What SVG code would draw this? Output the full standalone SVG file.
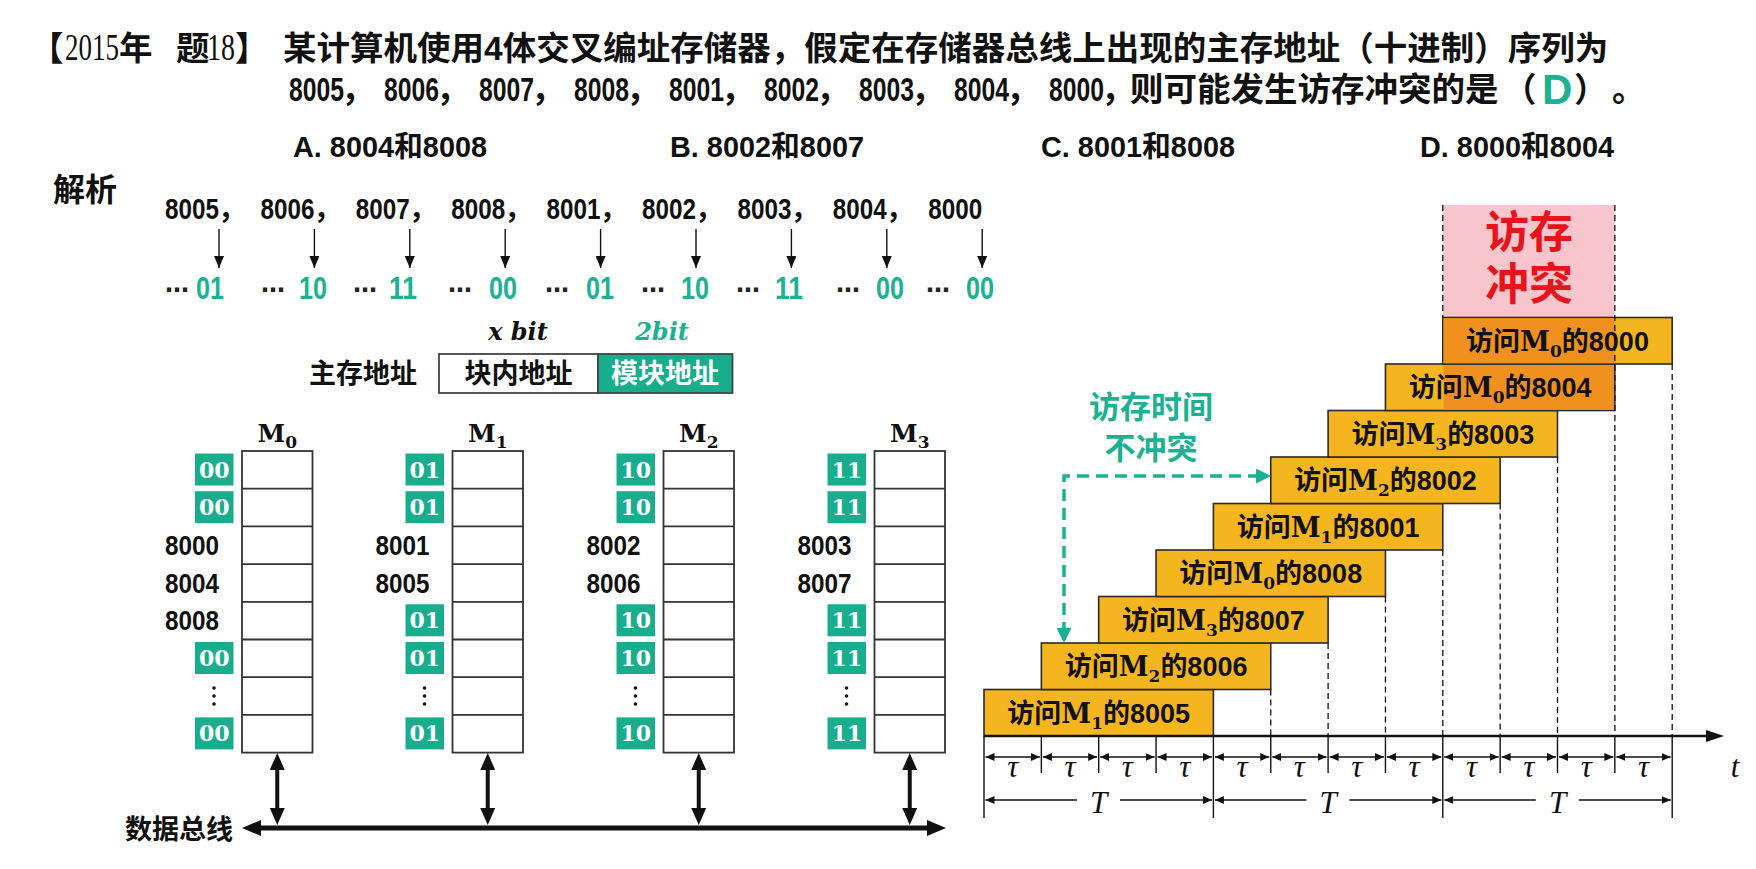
<svg xmlns="http://www.w3.org/2000/svg" width="1756" height="869" viewBox="0 0 1756 869">
<style>
.cjk{font-family:"Noto Sans CJK SC",sans-serif;font-weight:700}
.mix{font-family:"Liberation Sans","Noto Sans CJK SC",sans-serif;font-weight:700}
.ser{font-family:"Liberation Serif","Noto Sans CJK SC",serif}
.dser{font-family:"DejaVu Serif",serif}
.teal{fill:#1bb192}
.cell{fill:#fff;stroke:#333;stroke-width:1.8}
.rowl{stroke:#333;stroke-width:1.8}
.gbox{fill:#18ad8d}
.gtxt{font-family:"DejaVu Serif",serif;font-weight:700;font-size:22px;fill:#fff;text-anchor:middle}
.addr{font-family:"Liberation Sans",sans-serif;font-weight:700;font-size:28px;fill:#111}
.mlab{font-family:"DejaVu Serif",serif;font-weight:700;font-size:25px;text-anchor:middle;fill:#111}
.msub{font-size:17px}
.bar{fill:#f5b51e;stroke:#2a2a2a;stroke-width:1.6}
.dark{fill:#ef901f}
.bt{font-family:"Liberation Sans","Noto Sans CJK SC",sans-serif;font-weight:700;font-size:27px;text-anchor:middle;fill:#111}
.bm{font-family:"DejaVu Serif",serif;font-weight:700}
.bs{font-family:"DejaVu Serif",serif;font-weight:700;font-size:17px}
.dash{stroke:#111;stroke-width:1.3;stroke-dasharray:6 4;fill:none}
.tick{stroke:#111;stroke-width:1.4}
.tau{font-family:"Liberation Serif",serif;font-style:italic;font-size:31px;text-anchor:middle;fill:#111}
.thin{stroke:#111;stroke-width:1.4;fill:none}
.dotc{fill:#111}
.seqn{font-family:"Liberation Sans",sans-serif;font-weight:700;font-size:30px;fill:#111}
.code{font-family:"Liberation Sans",sans-serif;font-weight:700;font-size:31px;fill:#1bb192;text-anchor:end}
.ell{font-family:"DejaVu Sans",sans-serif;font-weight:700;font-size:24px;fill:#222;text-anchor:end}
</style>
<defs>
<marker id="aSm" markerUnits="userSpaceOnUse" markerWidth="12" markerHeight="10" refX="12" refY="5" orient="auto-start-reverse"><path d="M0,0 L12,5 L0,10 z" fill="#111"/></marker>
<marker id="aBig" markerUnits="userSpaceOnUse" markerWidth="17" markerHeight="15" refX="4" refY="7.5" orient="auto-start-reverse"><path d="M0,0 L17,7.5 L0,15 z" fill="#111"/></marker>
<marker id="aBus" markerUnits="userSpaceOnUse" markerWidth="19" markerHeight="16" refX="4" refY="8" orient="auto-start-reverse"><path d="M0,0 L19,8 L0,16 z" fill="#111"/></marker>
<marker id="aAx" markerUnits="userSpaceOnUse" markerWidth="18" markerHeight="12" refX="4" refY="6" orient="auto-start-reverse"><path d="M0,0 L18,6 L0,12 z" fill="#111"/></marker>
<marker id="aTau" markerUnits="userSpaceOnUse" markerWidth="9" markerHeight="8" refX="9" refY="4" orient="auto-start-reverse"><path d="M0,0 L9,4 L0,8 z" fill="#111"/></marker>
<marker id="aTeal" markerUnits="userSpaceOnUse" markerWidth="15" markerHeight="15" refX="4" refY="7.5" orient="auto-start-reverse"><path d="M0,0 L15,7.5 L0,15 z" fill="#1bb192"/></marker>
</defs>
<rect x="0" y="0" width="1756" height="869" fill="#fff"/>

<g id="title">
<text class="cjk" x="30" y="60" font-size="33.5" fill="#111">【</text>
<text class="ser" x="65" y="60" font-size="37" textLength="54" lengthAdjust="spacingAndGlyphs" fill="#111">2015</text>
<text class="cjk" x="119" y="60" font-size="33.5" fill="#111">年</text>
<text class="cjk" x="176" y="60" font-size="33.5" fill="#111">题</text>
<text class="ser" x="207" y="60" font-size="37" textLength="28" lengthAdjust="spacingAndGlyphs" fill="#111">18</text>
<text class="cjk" x="235" y="60" font-size="33.5" fill="#111">】</text>
<text class="mix" x="283" y="60" font-size="33.5" fill="#111">某计算机使用4体交叉编址存储器，假定在存储器总线上出现的主存地址（十进制）序列为</text>
<g class="mix" font-size="34" fill="#111">
<text x="289" y="101" textLength="55" lengthAdjust="spacingAndGlyphs">8005</text>
<text x="384" y="101" textLength="55" lengthAdjust="spacingAndGlyphs">8006</text>
<text x="479" y="101" textLength="55" lengthAdjust="spacingAndGlyphs">8007</text>
<text x="574" y="101" textLength="55" lengthAdjust="spacingAndGlyphs">8008</text>
<text x="669" y="101" textLength="55" lengthAdjust="spacingAndGlyphs">8001</text>
<text x="764" y="101" textLength="55" lengthAdjust="spacingAndGlyphs">8002</text>
<text x="859" y="101" textLength="55" lengthAdjust="spacingAndGlyphs">8003</text>
<text x="954" y="101" textLength="55" lengthAdjust="spacingAndGlyphs">8004</text>
<text x="1049" y="101" textLength="55" lengthAdjust="spacingAndGlyphs">8000</text>
</g>
<g class="cjk" font-size="33.5" fill="#111">
<text x="341" y="101">，</text><text x="436" y="101">，</text><text x="531" y="101">，</text><text x="626" y="101">，</text><text x="721" y="101">，</text><text x="816" y="101">，</text><text x="911" y="101">，</text><text x="1006" y="101">，</text><text x="1101" y="101">，</text>
<text x="1130" y="101">则可能发生访存冲突的是</text>
<text x="1503" y="101">（</text>
<text x="1574" y="101">）</text>
<text x="1612" y="101">。</text>
</g>
<text class="mix teal" x="1542" y="104" font-size="42">D</text>
</g>

<g id="options" class="mix" font-size="29" fill="#111">
<text x="293" y="157" textLength="194" lengthAdjust="spacingAndGlyphs">A. 8004和8008</text>
<text x="670" y="157" textLength="194" lengthAdjust="spacingAndGlyphs">B. 8002和8007</text>
<text x="1041" y="157" textLength="194" lengthAdjust="spacingAndGlyphs">C. 8001和8008</text>
<text x="1420" y="157" textLength="194" lengthAdjust="spacingAndGlyphs">D. 8000和8004</text>
</g>

<text class="cjk" x="53" y="201" font-size="32" fill="#111">解析</text>

<g id="sequence">
<text class="seqn" x="165" y="219" textLength="54" lengthAdjust="spacingAndGlyphs">8005</text>
<text class="seqn" x="260.4" y="219" textLength="54" lengthAdjust="spacingAndGlyphs">8006</text>
<text class="seqn" x="355.8" y="219" textLength="54" lengthAdjust="spacingAndGlyphs">8007</text>
<text class="seqn" x="451.2" y="219" textLength="54" lengthAdjust="spacingAndGlyphs">8008</text>
<text class="seqn" x="546.6" y="219" textLength="54" lengthAdjust="spacingAndGlyphs">8001</text>
<text class="seqn" x="642" y="219" textLength="54" lengthAdjust="spacingAndGlyphs">8002</text>
<text class="seqn" x="737.4" y="219" textLength="54" lengthAdjust="spacingAndGlyphs">8003</text>
<text class="seqn" x="832.8" y="219" textLength="54" lengthAdjust="spacingAndGlyphs">8004</text>
<text class="seqn" x="928.2" y="219" textLength="54" lengthAdjust="spacingAndGlyphs">8000</text>
<g class="cjk" font-size="28" fill="#111">
<text x="218" y="219">，</text><text x="313.4" y="219">，</text><text x="408.8" y="219">，</text><text x="504.2" y="219">，</text><text x="599.6" y="219">，</text><text x="695" y="219">，</text><text x="790.4" y="219">，</text><text x="885.8" y="219">，</text>
</g>
<g class="thin" stroke-width="1.6" marker-end="url(#aSm)">
<line x1="219" y1="229" x2="219" y2="268"/>
<line x1="314.4" y1="229" x2="314.4" y2="268"/>
<line x1="409.8" y1="229" x2="409.8" y2="268"/>
<line x1="505.2" y1="229" x2="505.2" y2="268"/>
<line x1="600.6" y1="229" x2="600.6" y2="268"/>
<line x1="696" y1="229" x2="696" y2="268"/>
<line x1="791.4" y1="229" x2="791.4" y2="268"/>
<line x1="886.8" y1="229" x2="886.8" y2="268"/>
<line x1="982.2" y1="229" x2="982.2" y2="268"/>
</g>
<text class="ell" x="189" y="298">⋯</text><text class="code" x="224" y="299" textLength="28" lengthAdjust="spacingAndGlyphs">01</text>
<text class="ell" x="285" y="298">⋯</text><text class="code" x="327" y="299" textLength="28" lengthAdjust="spacingAndGlyphs">10</text>
<text class="ell" x="377" y="298">⋯</text><text class="code" x="417" y="299" textLength="28" lengthAdjust="spacingAndGlyphs">11</text>
<text class="ell" x="472" y="298">⋯</text><text class="code" x="517" y="299" textLength="28" lengthAdjust="spacingAndGlyphs">00</text>
<text class="ell" x="569" y="298">⋯</text><text class="code" x="614" y="299" textLength="28" lengthAdjust="spacingAndGlyphs">01</text>
<text class="ell" x="665" y="298">⋯</text><text class="code" x="709" y="299" textLength="28" lengthAdjust="spacingAndGlyphs">10</text>
<text class="ell" x="760" y="298">⋯</text><text class="code" x="803" y="299" textLength="28" lengthAdjust="spacingAndGlyphs">11</text>
<text class="ell" x="860" y="298">⋯</text><text class="code" x="904" y="299" textLength="28" lengthAdjust="spacingAndGlyphs">00</text>
<text class="ell" x="950" y="298">⋯</text><text class="code" x="994" y="299" textLength="28" lengthAdjust="spacingAndGlyphs">00</text>
</g>

<g id="address-format">
<text class="dser" x="518" y="340" font-size="24" font-weight="700" font-style="italic" text-anchor="middle" fill="#111">x bit</text>
<text class="dser teal" x="662" y="340" font-size="24" font-weight="700" font-style="italic" text-anchor="middle">2bit</text>
<text class="cjk" x="417" y="383" font-size="27" text-anchor="end" fill="#111">主存地址</text>
<rect x="439" y="354" width="159" height="39" fill="#fff" stroke="#444" stroke-width="1.8"/>
<rect x="598" y="354" width="134.5" height="39" fill="#18ad8d" stroke="#444" stroke-width="1.8"/>
<text class="cjk" x="518.5" y="383" font-size="27" text-anchor="middle" fill="#111">块内地址</text>
<text class="cjk" x="665" y="383" font-size="27" text-anchor="middle" fill="#fff">模块地址</text>
</g>

<g id="M0">
<text class="mlab" x="277.25" y="442">M<tspan class="msub" dy="6">0</tspan></text>
<rect class="cell" x="242" y="451" width="70.5" height="301.6"/>
<path class="rowl" d="M242,488.7H312.5M242,526.4H312.5M242,564.1H312.5M242,601.8H312.5M242,639.5H312.5M242,677.2H312.5M242,714.9H312.5"/>
<rect class="gbox" x="195" y="453.5" width="38.5" height="32"/><text class="gtxt" x="214.25" y="477.5">00</text>
<rect class="gbox" x="195" y="491.2" width="38.5" height="32"/><text class="gtxt" x="214.25" y="515.2">00</text>
<text class="addr" x="165" y="555" textLength="54" lengthAdjust="spacingAndGlyphs">8000</text>
<text class="addr" x="165" y="592.7" textLength="54" lengthAdjust="spacingAndGlyphs">8004</text>
<text class="addr" x="165" y="630.4" textLength="54" lengthAdjust="spacingAndGlyphs">8008</text>
<rect class="gbox" x="195" y="642" width="38.5" height="32"/><text class="gtxt" x="214.25" y="666">00</text>
<circle class="dotc" cx="214" cy="688" r="1.8"/><circle class="dotc" cx="214" cy="696" r="1.8"/><circle class="dotc" cx="214" cy="704" r="1.8"/>
<rect class="gbox" x="195" y="717.4" width="38.5" height="32"/><text class="gtxt" x="214.25" y="741.4">00</text>
</g>

<g id="M1">
<text class="mlab" x="487.75" y="442">M<tspan class="msub" dy="6">1</tspan></text>
<rect class="cell" x="452.5" y="451" width="70.5" height="301.6"/>
<path class="rowl" d="M452.5,488.7H523M452.5,526.4H523M452.5,564.1H523M452.5,601.8H523M452.5,639.5H523M452.5,677.2H523M452.5,714.9H523"/>
<rect class="gbox" x="405.5" y="453.5" width="38.5" height="32"/><text class="gtxt" x="424.75" y="477.5">01</text>
<rect class="gbox" x="405.5" y="491.2" width="38.5" height="32"/><text class="gtxt" x="424.75" y="515.2">01</text>
<text class="addr" x="375.5" y="555" textLength="54" lengthAdjust="spacingAndGlyphs">8001</text>
<text class="addr" x="375.5" y="592.7" textLength="54" lengthAdjust="spacingAndGlyphs">8005</text>
<rect class="gbox" x="405.5" y="604.3" width="38.5" height="32"/><text class="gtxt" x="424.75" y="628.3">01</text>
<rect class="gbox" x="405.5" y="642" width="38.5" height="32"/><text class="gtxt" x="424.75" y="666">01</text>
<circle class="dotc" cx="424.5" cy="688" r="1.8"/><circle class="dotc" cx="424.5" cy="696" r="1.8"/><circle class="dotc" cx="424.5" cy="704" r="1.8"/>
<rect class="gbox" x="405.5" y="717.4" width="38.5" height="32"/><text class="gtxt" x="424.75" y="741.4">01</text>
</g>

<g id="M2">
<text class="mlab" x="698.75" y="442">M<tspan class="msub" dy="6">2</tspan></text>
<rect class="cell" x="663.5" y="451" width="70.5" height="301.6"/>
<path class="rowl" d="M663.5,488.7H734M663.5,526.4H734M663.5,564.1H734M663.5,601.8H734M663.5,639.5H734M663.5,677.2H734M663.5,714.9H734"/>
<rect class="gbox" x="616.5" y="453.5" width="38.5" height="32"/><text class="gtxt" x="635.75" y="477.5">10</text>
<rect class="gbox" x="616.5" y="491.2" width="38.5" height="32"/><text class="gtxt" x="635.75" y="515.2">10</text>
<text class="addr" x="586.5" y="555" textLength="54" lengthAdjust="spacingAndGlyphs">8002</text>
<text class="addr" x="586.5" y="592.7" textLength="54" lengthAdjust="spacingAndGlyphs">8006</text>
<rect class="gbox" x="616.5" y="604.3" width="38.5" height="32"/><text class="gtxt" x="635.75" y="628.3">10</text>
<rect class="gbox" x="616.5" y="642" width="38.5" height="32"/><text class="gtxt" x="635.75" y="666">10</text>
<circle class="dotc" cx="635.5" cy="688" r="1.8"/><circle class="dotc" cx="635.5" cy="696" r="1.8"/><circle class="dotc" cx="635.5" cy="704" r="1.8"/>
<rect class="gbox" x="616.5" y="717.4" width="38.5" height="32"/><text class="gtxt" x="635.75" y="741.4">10</text>
</g>

<g id="M3">
<text class="mlab" x="909.75" y="442">M<tspan class="msub" dy="6">3</tspan></text>
<rect class="cell" x="874.5" y="451" width="70.5" height="301.6"/>
<path class="rowl" d="M874.5,488.7H945M874.5,526.4H945M874.5,564.1H945M874.5,601.8H945M874.5,639.5H945M874.5,677.2H945M874.5,714.9H945"/>
<rect class="gbox" x="827.5" y="453.5" width="38.5" height="32"/><text class="gtxt" x="846.75" y="477.5">11</text>
<rect class="gbox" x="827.5" y="491.2" width="38.5" height="32"/><text class="gtxt" x="846.75" y="515.2">11</text>
<text class="addr" x="797.5" y="555" textLength="54" lengthAdjust="spacingAndGlyphs">8003</text>
<text class="addr" x="797.5" y="592.7" textLength="54" lengthAdjust="spacingAndGlyphs">8007</text>
<rect class="gbox" x="827.5" y="604.3" width="38.5" height="32"/><text class="gtxt" x="846.75" y="628.3">11</text>
<rect class="gbox" x="827.5" y="642" width="38.5" height="32"/><text class="gtxt" x="846.75" y="666">11</text>
<circle class="dotc" cx="846.5" cy="688" r="1.8"/><circle class="dotc" cx="846.5" cy="696" r="1.8"/><circle class="dotc" cx="846.5" cy="704" r="1.8"/>
<rect class="gbox" x="827.5" y="717.4" width="38.5" height="32"/><text class="gtxt" x="846.75" y="741.4">11</text>
</g>

<g id="bus">
<text class="cjk" x="125" y="839" font-size="27" fill="#111">数据总线</text>
<line x1="257" y1="828" x2="931" y2="828" stroke="#111" stroke-width="5" marker-start="url(#aBus)" marker-end="url(#aBus)"/>
</g>

<g id="connectors" stroke="#111" stroke-width="4">
<line x1="277.25" y1="766" x2="277.25" y2="812" marker-start="url(#aBig)" marker-end="url(#aBig)"/>
<line x1="487.75" y1="766" x2="487.75" y2="812" marker-start="url(#aBig)" marker-end="url(#aBig)"/>
<line x1="698.75" y1="766" x2="698.75" y2="812" marker-start="url(#aBig)" marker-end="url(#aBig)"/>
<line x1="909.75" y1="766" x2="909.75" y2="812" marker-start="url(#aBig)" marker-end="url(#aBig)"/>
</g>

<g id="conflict">
<rect x="1442.8" y="205" width="172.05" height="112.5" fill="#f8c5cc"/>
<text class="cjk" x="1529" y="248" font-size="44" text-anchor="middle" fill="#e8141c">访存</text>
<text class="cjk" x="1529" y="300" font-size="44" text-anchor="middle" fill="#e8141c">冲突</text>
</g>

<g id="bar0"><rect class="bar" x="984" y="689.5" width="229.4" height="46.5"/><text class="bt" x="1098.7" y="722.5">访问<tspan class="bm">M</tspan><tspan class="bs" dy="6">1</tspan><tspan dy="-6">的8005</tspan></text></g>
<g id="bar1"><rect class="bar" x="1041.35" y="643" width="229.4" height="46.5"/><text class="bt" x="1156.05" y="676">访问<tspan class="bm">M</tspan><tspan class="bs" dy="6">2</tspan><tspan dy="-6">的8006</tspan></text></g>
<g id="bar2"><rect class="bar" x="1098.7" y="596.5" width="229.4" height="46.5"/><text class="bt" x="1213.4" y="629.5">访问<tspan class="bm">M</tspan><tspan class="bs" dy="6">3</tspan><tspan dy="-6">的8007</tspan></text></g>
<g id="bar3"><rect class="bar" x="1156.05" y="550" width="229.4" height="46.5"/><text class="bt" x="1270.75" y="583">访问<tspan class="bm">M</tspan><tspan class="bs" dy="6">0</tspan><tspan dy="-6">的8008</tspan></text></g>
<g id="bar4"><rect class="bar" x="1213.4" y="503.5" width="229.4" height="46.5"/><text class="bt" x="1328.1" y="536.5">访问<tspan class="bm">M</tspan><tspan class="bs" dy="6">1</tspan><tspan dy="-6">的8001</tspan></text></g>
<g id="bar5"><rect class="bar" x="1270.75" y="457" width="229.4" height="46.5"/><text class="bt" x="1385.45" y="490">访问<tspan class="bm">M</tspan><tspan class="bs" dy="6">2</tspan><tspan dy="-6">的8002</tspan></text></g>
<g id="bar6"><rect class="bar" x="1328.1" y="410.5" width="229.4" height="46.5"/><text class="bt" x="1442.8" y="443.5">访问<tspan class="bm">M</tspan><tspan class="bs" dy="6">3</tspan><tspan dy="-6">的8003</tspan></text></g>
<g id="bar7"><rect class="bar" x="1385.45" y="364" width="229.4" height="46.5"/><rect class="dark" x="1443.6" y="364.8" width="170.4" height="44.9"/><text class="bt" x="1500.15" y="397">访问<tspan class="bm">M</tspan><tspan class="bs" dy="6">0</tspan><tspan dy="-6">的8004</tspan></text></g>
<g id="bar8"><rect class="bar" x="1442.8" y="317.5" width="229.4" height="46.5"/><rect class="dark" x="1443.6" y="318.3" width="171.25" height="44.9"/><text class="bt" x="1557.5" y="350.5">访问<tspan class="bm">M</tspan><tspan class="bs" dy="6">0</tspan><tspan dy="-6">的8000</tspan></text></g>

<g id="guides" class="dash">
<line x1="1270.75" y1="689.5" x2="1270.75" y2="736"/>
<line x1="1328.1" y1="643" x2="1328.1" y2="736"/>
<line x1="1385.45" y1="596.5" x2="1385.45" y2="736"/>
<line x1="1442.8" y1="550" x2="1442.8" y2="736"/>
<line x1="1500.15" y1="503.5" x2="1500.15" y2="736"/>
<line x1="1557.5" y1="457" x2="1557.5" y2="736"/>
<line x1="1614.85" y1="205" x2="1614.85" y2="736"/>
<line x1="1672.2" y1="364" x2="1672.2" y2="736"/>
<line x1="1442.8" y1="205" x2="1442.8" y2="317.5"/>
</g>

<g id="note">
<text class="cjk teal" x="1151" y="418" font-size="31" text-anchor="middle">访存时间</text>
<text class="cjk teal" x="1151" y="459" font-size="31" text-anchor="middle">不冲突</text>
<path d="M1260,476 H1064 V632" fill="none" stroke="#1bb192" stroke-width="3.5" stroke-dasharray="12 7" marker-start="url(#aTeal)" marker-end="url(#aTeal)"/>
</g>

<g id="axis">
<line x1="984" y1="736" x2="1710" y2="736" stroke="#111" stroke-width="2.5" marker-end="url(#aAx)"/>
<text class="tau" x="1735" y="777" font-size="42">t</text>
<g class="tick">
<line x1="984" y1="736" x2="984" y2="818"/>
<line x1="1041.35" y1="736" x2="1041.35" y2="773"/>
<line x1="1098.7" y1="736" x2="1098.7" y2="773"/>
<line x1="1156.05" y1="736" x2="1156.05" y2="773"/>
<line x1="1213.4" y1="736" x2="1213.4" y2="818"/>
<line x1="1270.75" y1="736" x2="1270.75" y2="773"/>
<line x1="1328.1" y1="736" x2="1328.1" y2="773"/>
<line x1="1385.45" y1="736" x2="1385.45" y2="773"/>
<line x1="1442.8" y1="736" x2="1442.8" y2="818"/>
<line x1="1500.15" y1="736" x2="1500.15" y2="773"/>
<line x1="1557.5" y1="736" x2="1557.5" y2="773"/>
<line x1="1614.85" y1="736" x2="1614.85" y2="773"/>
<line x1="1672.2" y1="736" x2="1672.2" y2="818"/>
</g>
<g class="thin" marker-start="url(#aTau)" marker-end="url(#aTau)">
<line x1="985.5" y1="757" x2="1039.85" y2="757"/>
<line x1="1042.85" y1="757" x2="1097.2" y2="757"/>
<line x1="1100.2" y1="757" x2="1154.55" y2="757"/>
<line x1="1157.55" y1="757" x2="1211.9" y2="757"/>
<line x1="1214.9" y1="757" x2="1269.25" y2="757"/>
<line x1="1272.25" y1="757" x2="1326.6" y2="757"/>
<line x1="1329.6" y1="757" x2="1383.95" y2="757"/>
<line x1="1386.95" y1="757" x2="1441.3" y2="757"/>
<line x1="1444.3" y1="757" x2="1498.65" y2="757"/>
<line x1="1501.65" y1="757" x2="1556" y2="757"/>
<line x1="1559" y1="757" x2="1613.35" y2="757"/>
<line x1="1616.35" y1="757" x2="1670.7" y2="757"/>
</g>
<text class="tau" x="1012.7" y="777">τ</text>
<text class="tau" x="1070" y="777">τ</text>
<text class="tau" x="1127.4" y="777">τ</text>
<text class="tau" x="1184.7" y="777">τ</text>
<text class="tau" x="1242.1" y="777">τ</text>
<text class="tau" x="1299.4" y="777">τ</text>
<text class="tau" x="1356.8" y="777">τ</text>
<text class="tau" x="1414.1" y="777">τ</text>
<text class="tau" x="1471.5" y="777">τ</text>
<text class="tau" x="1528.8" y="777">τ</text>
<text class="tau" x="1586.2" y="777">τ</text>
<text class="tau" x="1643.5" y="777">τ</text>
<g class="thin">
<line x1="985.5" y1="800" x2="1077" y2="800" marker-start="url(#aTau)"/>
<line x1="1120" y1="800" x2="1211.9" y2="800" marker-end="url(#aTau)"/>
<line x1="1214.9" y1="800" x2="1306.4" y2="800" marker-start="url(#aTau)"/>
<line x1="1349.4" y1="800" x2="1441.3" y2="800" marker-end="url(#aTau)"/>
<line x1="1444.3" y1="800" x2="1535.8" y2="800" marker-start="url(#aTau)"/>
<line x1="1578.8" y1="800" x2="1670.7" y2="800" marker-end="url(#aTau)"/>
</g>
<text class="tau" x="1098.7" y="813" font-size="32">T</text>
<text class="tau" x="1328.1" y="813" font-size="32">T</text>
<text class="tau" x="1557.5" y="813" font-size="32">T</text>
</g>
</svg>
